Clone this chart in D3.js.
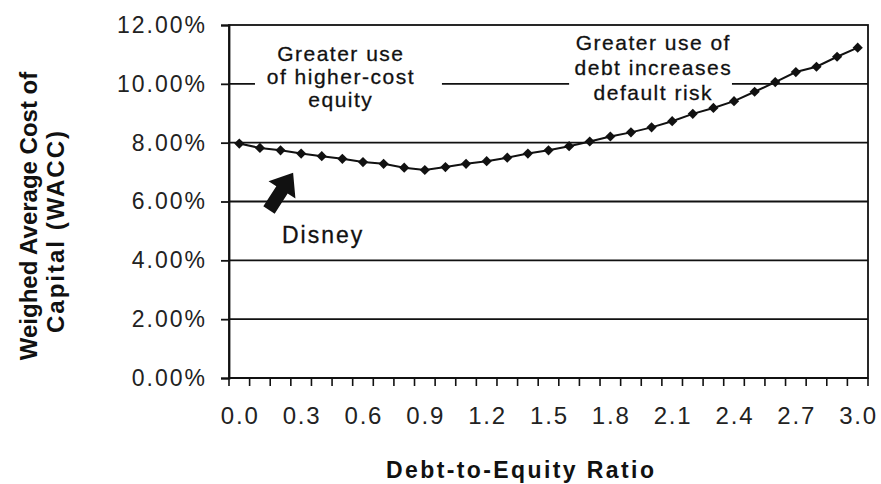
<!DOCTYPE html>
<html><head><meta charset="utf-8">
<script src="https://cdn.jsdelivr.net/npm/d3@7"></script>
<style>
html,body{margin:0;padding:0;background:#fff;}
svg{display:block;font-family:"Liberation Sans",Arial,sans-serif;}
</style>
</head><body>
<svg id="chart" width="881" height="484"></svg>
<script>
// ---- data ----
const categories = ["0.0","0.1","0.2","0.3","0.4","0.5","0.6","0.7","0.8","0.9",
  "1.0","1.1","1.2","1.3","1.4","1.5","1.6","1.7","1.8","1.9",
  "2.0","2.1","2.2","2.3","2.4","2.5","2.6","2.7","2.8","2.9","3.0"];
const waccValues = [7.97,7.82,7.74,7.63,7.54,7.45,7.34,7.28,7.15,7.07,
  7.17,7.28,7.37,7.49,7.63,7.74,7.88,8.04,8.21,8.35,
  8.52,8.73,8.98,9.18,9.41,9.73,10.06,10.40,10.58,10.92,11.23];
const yTickValues = [0,2,4,6,8,10,12];
const xLabelCategories = ["0.0","0.3","0.6","0.9","1.2","1.5","1.8","2.1","2.4","2.7","3.0"];
const yTitleLines = ["Weighed Average Cost of","Capital (WACC)"];
const xTitle = "Debt-to-Equity Ratio";
const noteLeft = ["Greater use","of higher-cost","equity"];
const noteRight = ["Greater use of","debt increases","default risk"];
const arrowLabel = "Disney";

// ---- layout ----
const W = 881, H = 484;
const plot = {left:229, right:868, top:25, bottom:378};
const svg = d3.select("#chart");

const x = d3.scaleBand().domain(categories).range([plot.left, plot.right]).padding(0);
const y = d3.scaleLinear().domain([0,12]).range([plot.bottom, plot.top]);
const bw = x.bandwidth();
const cx = c => x(c) + bw/2;
const xi = i => plot.left + (i + 0.5) * bw; // fractional category position

// gridlines
svg.append("g").selectAll("line").data(yTickValues.filter(v => v > 0 && v < 12)).join("line")
  .attr("x1", plot.left).attr("x2", plot.right)
  .attr("y1", d => y(d)).attr("y2", d => y(d))
  .attr("stroke", "#111").attr("stroke-width", 1.8);

// plot border
svg.append("rect").attr("x", plot.left).attr("y", plot.top)
  .attr("width", plot.right - plot.left).attr("height", plot.bottom - plot.top)
  .attr("fill", "none").attr("stroke", "#111").attr("stroke-width", 1.8);

// annotation boxes (white, hide gridlines)
const boxes = [
  {i0:0.76, i1:9.83, v0:8.94, v1:11.83},
  {i0:16.0, i1:23.9, v0:9.31, v1:11.83}
];
svg.append("g").selectAll("rect").data(boxes).join("rect")
  .attr("x", d => xi(d.i0)).attr("width", d => xi(d.i1) - xi(d.i0))
  .attr("y", d => y(d.v1)).attr("height", d => y(d.v0) - y(d.v1))
  .attr("fill", "#fff");

// annotation texts
function note(lines, ci, v, lh) {
  const g = svg.append("g");
  g.selectAll("text").data(lines).join("text")
    .attr("x", xi(ci)).attr("dx", 0.75)
    .attr("y", (d, k) => y(v) + k * lh)
    .attr("text-anchor", "middle")
    .attr("font-size", 21).attr("letter-spacing", 1.5)
    .attr("fill", "#111").attr("stroke", "#111").attr("stroke-width", 0.3)
    .text(d => d);
}
note(noteLeft, 4.89, 10.78, 23);
note(noteRight, 20.05, 11.15, 25);

// y axis
const yAxis = svg.append("g").attr("transform", `translate(${plot.left},0)`)
  .call(d3.axisLeft(y).tickValues(yTickValues).tickSize(8).tickPadding(14)
    .tickFormat(d => d.toFixed(2) + "%"));
yAxis.select(".domain").attr("stroke", "#111").attr("stroke-width", 1.8);
yAxis.selectAll(".tick line").attr("stroke", "#111").attr("stroke-width", 1.8);
yAxis.selectAll(".tick text").attr("font-size", 23).attr("letter-spacing", 2)
  .attr("fill", "#222").attr("font-family", "Liberation Sans, Arial, sans-serif");

// x ticks at category boundaries
const boundaries = categories.map(c => x(c)).concat([plot.right]);
svg.append("g").selectAll("line").data(boundaries).join("line")
  .attr("x1", d => d).attr("x2", d => d)
  .attr("y1", plot.bottom).attr("y2", plot.bottom + 8)
  .attr("stroke", "#111").attr("stroke-width", 1.6);
svg.append("line").attr("x1", plot.left).attr("x2", plot.right)
  .attr("y1", plot.bottom).attr("y2", plot.bottom)
  .attr("stroke", "#111").attr("stroke-width", 2);

// x labels
svg.append("g").selectAll("text").data(xLabelCategories).join("text")
  .attr("x", d => cx(d)).attr("dx", 0.9).attr("y", 424)
  .attr("text-anchor", "middle").attr("font-size", 24).attr("letter-spacing", 1.8)
  .attr("fill", "#222").text(d => d);

// axis titles
svg.append("text").attr("x", 520).attr("dx", 1.2).attr("y", 478)
  .attr("text-anchor", "middle").attr("font-size", 23).attr("font-weight", "bold")
  .attr("letter-spacing", 2.4).attr("fill", "#111").text(xTitle);
const yTitlePos = [{x:37, y:216, ls:0}, {x:64, y:231, ls:2}];
svg.append("g").selectAll("text").data(yTitleLines).join("text")
  .attr("transform", (d, k) => `translate(${yTitlePos[k].x},${yTitlePos[k].y}) rotate(-90)`)
  .attr("text-anchor", "middle").attr("font-size", 24).attr("font-weight", "bold")
  .attr("letter-spacing", (d, k) => yTitlePos[k].ls).attr("fill", "#111")
  .text(d => d);

// Disney arrow and label
const arrow = {tipI:2.61, tipV:6.98, tailI:1.44, tailV:5.71, headLen:20.5, headW:32, shaftW:13.5};
(function drawArrow(a) {
  const tip = [xi(a.tipI), y(a.tipV)], tail = [xi(a.tailI), y(a.tailV)];
  const dx = tip[0] - tail[0], dy = tip[1] - tail[1], L = Math.hypot(dx, dy);
  const u = [dx / L, dy / L], n = [-u[1], u[0]];
  const base = [tip[0] - u[0] * a.headLen, tip[1] - u[1] * a.headLen];
  const p = (pt, s) => [pt[0] + n[0] * s, pt[1] + n[1] * s];
  const pts = [tip, p(base, a.headW / 2), p(base, a.shaftW / 2), p(tail, a.shaftW / 2),
    p(tail, -a.shaftW / 2), p(base, -a.shaftW / 2), p(base, -a.headW / 2)];
  svg.append("path").attr("d", "M" + pts.map(q => q.join(",")).join("L") + "Z").attr("fill", "#111");
})(arrow);
svg.append("text").attr("x", xi(2.07)).attr("y", y(4.59))
  .attr("font-size", 23).attr("letter-spacing", 2).attr("fill", "#111")
  .attr("stroke", "#111").attr("stroke-width", 0.3).text(arrowLabel);

// line + markers
const pts = categories.map((c, i) => ({c, v: waccValues[i]}));
svg.append("path").datum(pts)
  .attr("d", d3.line().x(d => cx(d.c)).y(d => y(d.v)))
  .attr("fill", "none").attr("stroke", "#111").attr("stroke-width", 2);
svg.append("g").selectAll("path").data(pts).join("path")
  .attr("transform", d => `translate(${cx(d.c)},${y(d.v)}) rotate(45)`)
  .attr("d", d3.symbol(d3.symbolSquare, 52))
  .attr("fill", "#111");
</script>
</body></html>
